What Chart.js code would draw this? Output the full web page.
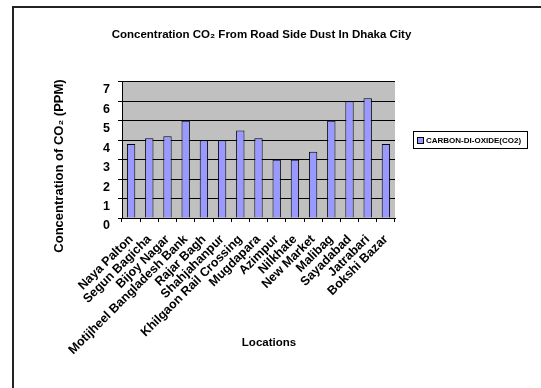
<!DOCTYPE html>
<html>
<head>
<meta charset="utf-8">
<script src="https://cdn.jsdelivr.net/npm/chart.js@4"></script>
<style>
  body { margin: 0; background: #fff; }
  #frame { position: absolute; left: 12px; top: 6px; width: 620px; height: 500px; border: 2px solid #222; }
  #wrap { position: absolute; left: 0; top: 0; width: 541px; height: 388px; }
</style>
</head>
<body>
<div id="frame"></div>
<div id="wrap"><canvas id="co2Chart" width="541" height="388"></canvas></div>
<script>
const locations = ['Naya Palton', 'Segun Bagicha', 'Bijoy Nagar', 'Motijheel Bangladesh Bank', 'Rajar Bagh',
    'Shahjahanpur', 'Khilgaon Rail Crossing', 'Mugdapara', 'Azimpur', 'Nilkhate', 'New Market',
    'Malibag', 'Sayadabad', 'Jatrabari', 'Bokshi Bazar'];
const co2Values = [3.8, 4.1, 4.2, 5.0, 4.0, 4.0, 4.5, 4.1, 3.0, 3.0, 3.4, 5.0, 6.0, 6.15, 3.8];
const yTicks = [0, 1, 2, 3, 4, 5, 6, 7];
const seriesName = 'CARBON-DI-OXIDE(CO2)';

const FONT = 'Liberation Sans, Arial, sans-serif';

// grey plot background, axis titles and boxed legend
const decorations = {
    id: 'decorations',
    beforeDraw(chart) {
        const a = chart.chartArea;
        const ctx = chart.ctx;
        ctx.save();
        ctx.fillStyle = '#c0c0c0';
        ctx.fillRect(a.left, a.top, a.right - a.left, a.bottom - a.top);
        ctx.restore();
    },
    afterDraw(chart) {
        const ctx = chart.ctx;
        ctx.save();
        ctx.fillStyle = '#000';
        ctx.font = 'bold 11.5px ' + FONT;
        ctx.textAlign = 'center';
        ctx.textBaseline = 'middle';
        ctx.fillText('Locations', 269, 343);

        ctx.font = 'bold 13px ' + FONT;
        ctx.translate(59, 166);
        ctx.rotate(-Math.PI / 2);
        ctx.fillText('Concentration of CO\u2082 (PPM)', 0, 0);
        ctx.restore();

        // legend
        const ds = chart.data.datasets[0];
        ctx.save();
        ctx.strokeStyle = '#000';
        ctx.lineWidth = 1;
        ctx.fillStyle = '#fff';
        ctx.fillRect(413, 131, 114, 17);
        ctx.strokeRect(413.5, 131.5, 114, 17);
        ctx.fillStyle = ds.backgroundColor;
        ctx.fillRect(417, 137, 6, 6);
        ctx.strokeRect(417.5, 137.5, 6, 6);
        ctx.fillStyle = '#000';
        ctx.font = 'bold 8px ' + FONT;
        ctx.textAlign = 'left';
        ctx.textBaseline = 'middle';
        ctx.fillText(ds.label, 426, 140.5);
        ctx.restore();
    }
};

new Chart(document.getElementById('co2Chart'), {
    type: 'bar',
    data: {
        labels: locations,
        datasets: [{
            label: seriesName,
            data: co2Values,
            backgroundColor: '#9999ff',
            borderColor: '#000',
            borderWidth: 1,
            barPercentage: 0.46,
            categoryPercentage: 1
        }]
    },
    options: {
        responsive: false,
        animation: false,
        layout: { padding: { left: 0, right: 18, top: 0, bottom: 0 } },
        plugins: {
            legend: { display: false },
            tooltip: { enabled: false },
            title: {
                display: true,
                text: 'Concentration CO\u2082 From Road Side Dust In Dhaka City',
                color: '#000',
                font: { family: FONT, size: 11.5, weight: 'bold', lineHeight: 1.2 },
                padding: { top: 28, bottom: 40 }
            }
        },
        scales: {
            x: {
                grid: { display: true, drawOnChartArea: false, drawTicks: true, tickLength: 4, color: '#000', offset: true },
                border: { color: '#000', width: 1 },
                ticks: {
                    color: '#000',
                    font: { family: FONT, size: 12.5, weight: 'bold' },
                    minRotation: 45,
                    maxRotation: 45,
                    autoSkip: false,
                    padding: 10
                },
                afterFit(scale) { scale.height = 170; }
            },
            y: {
                min: 0,
                max: 7,
                afterBuildTicks(scale) { scale.ticks = yTicks.map(v => ({ value: v })); },
                grid: { color: '#000', tickLength: 4 },
                border: { color: '#000', width: 1 },
                ticks: {
                    color: '#000',
                    font: { family: FONT, size: 12.5, weight: 'bold' },
                    padding: 8,
                    labelOffset: 8
                },
                afterFit(scale) { scale.width = 122; }
            },
            // empty space on the right that holds the legend
            side: {
                position: 'right',
                display: true,
                grid: { display: false },
                border: { display: false },
                ticks: { display: false },
                afterFit(scale) { scale.width = 128; }
            }
        }
    },
    plugins: [decorations]
});
</script>
</body>
</html>
